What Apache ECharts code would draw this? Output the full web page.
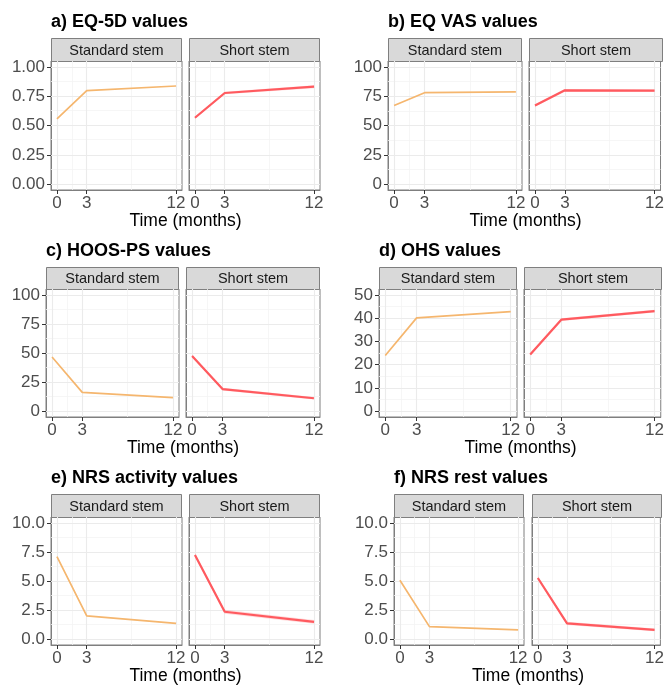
<!DOCTYPE html>
<html lang="en">
<head>
    <meta charset="UTF-8">
    <title>PROM values by stem</title>
    <script src="https://cdn.jsdelivr.net/npm/echarts@6/dist/echarts.min.js"></script>
    <style>
        html, body { margin: 0; padding: 0; background: #fff; }
        #main { width: 667px; height: 685px; }
    </style>
</head>
<body>
<div id="main"></div>
<script>
    // time points (months)
    var months = [0, 3, 12];

    // a) EQ-5D
    var eq5dStd = [0.557, 0.797, 0.837];
    var eq5dShort = [0.566, 0.777, 0.831];
    var eq5dShortLo = [0.556, 0.766, 0.818];
    var eq5dShortHi = [0.576, 0.788, 0.844];
    var eq5dTicks = [0, 0.25, 0.5, 0.75, 1];

    // b) EQ VAS
    var vasStd = [67.1, 78.0, 78.6];
    var vasShort = [67.1, 80.0, 79.7];
    var vasShortLo = [66.0, 78.9, 78.6];
    var vasShortHi = [68.2, 81.1, 80.8];
    var vasTicks = [0, 25, 50, 75, 100];

    // c) HOOS-PS
    var hoosStd = [46.6, 16.2, 11.6];
    var hoosShort = [47.4, 19.0, 11.1];
    var hoosShortLo = [46.3, 17.8, 10.0];
    var hoosShortHi = [48.5, 20.2, 12.2];
    var hoosTicks = [0, 25, 50, 75, 100];

    // d) OHS
    var ohsStd = [23.9, 40.1, 42.8];
    var ohsShort = [24.4, 39.3, 43.0];
    var ohsShortLo = [23.8, 38.7, 42.4];
    var ohsShortHi = [25.0, 39.9, 43.6];
    var ohsTicks = [0, 10, 20, 30, 40, 50];

    // e) NRS activity
    var nrsActStd = [7.10, 2.00, 1.36];
    var nrsActShort = [7.24, 2.36, 1.48];
    var nrsActShortLo = [7.10, 2.18, 1.32];
    var nrsActShortHi = [7.38, 2.54, 1.64];
    var nrsActTicks = [0, 2.5, 5, 7.5, 10];

    // f) NRS rest
    var nrsRestStd = [5.06, 1.08, 0.80];
    var nrsRestShort = [5.26, 1.36, 0.80];
    var nrsRestShortLo = [5.12, 1.22, 0.68];
    var nrsRestShortHi = [5.40, 1.50, 0.92];
    var nrsRestTicks = [0, 2.5, 5, 7.5, 10];

    var facetNames = ['Standard stem', 'Short stem'];
    var xTicks = [0, 3, 12];
    var xMinor = [1.5, 7.5];

    var colStd = '#F5B66E';
    var colShort = '#FF5A5F';
    var font = 'Liberation Sans, Arial, Helvetica, sans-serif';

    // panel layout: x = [stdLeft, stdRight, shortLeft, shortRight], y = [stripTop, plotTop, plotBottom]
    var panels = [
        {title: 'a) EQ-5D values', std: eq5dStd, sh: eq5dShort, lo: eq5dShortLo, hi: eq5dShortHi, ticks: eq5dTicks, dec: 2, x: [51, 182, 189, 320], y: [38, 61, 190]},
        {title: 'b) EQ VAS values', std: vasStd, sh: vasShort, lo: vasShortLo, hi: vasShortHi, ticks: vasTicks, dec: 0, x: [388, 522, 529, 663], y: [38, 61, 190]},
        {title: 'c) HOOS-PS values', std: hoosStd, sh: hoosShort, lo: hoosShortLo, hi: hoosShortHi, ticks: hoosTicks, dec: 0, x: [46, 179, 186, 320], y: [267, 289, 417]},
        {title: 'd) OHS values', std: ohsStd, sh: ohsShort, lo: ohsShortLo, hi: ohsShortHi, ticks: ohsTicks, dec: 0, x: [379, 517, 524, 662], y: [267, 289, 417]},
        {title: 'e) NRS activity values', std: nrsActStd, sh: nrsActShort, lo: nrsActShortLo, hi: nrsActShortHi, ticks: nrsActTicks, dec: 1, x: [51, 182, 189, 320], y: [494, 517, 645]},
        {title: 'f) NRS rest values', std: nrsRestStd, sh: nrsRestShort, lo: nrsRestShortLo, hi: nrsRestShortHi, ticks: nrsRestTicks, dec: 1, x: [394, 524, 532, 662], y: [494, 517, 645]}
    ];

    var grids = [], xAxes = [], yAxes = [], series = [], graphics = [];

    function pts(ys) {
        return months.map(function (m, i) { return [m, ys[i]]; });
    }

    panels.forEach(function (p) {
        var top = p.ticks[p.ticks.length - 1];
        var pad = top * 0.05;
        var yMinor = [];
        for (var k = 0; k < p.ticks.length - 1; k++) yMinor.push((p.ticks[k] + p.ticks[k + 1]) / 2);

        // title
        graphics.push({
            type: 'text', x: p.x[0], y: p.y[0] - 16,
            style: {text: p.title, font: 'bold 18px ' + font, fill: '#000',
                align: 'left', verticalAlign: 'middle', textAlign: 'left', textVerticalAlign: 'middle'}
        });
        // x axis title across both facets
        graphics.push({
            type: 'text', x: (p.x[0] + p.x[3]) / 2, y: p.y[2] + 31,
            style: {text: 'Time (months)', font: '17.5px ' + font, fill: '#000',
                align: 'center', verticalAlign: 'middle', textAlign: 'center', textVerticalAlign: 'middle'}
        });

        for (var f = 0; f < 2; f++) {
            var left = p.x[f * 2], right = p.x[f * 2 + 1];
            var gi = grids.length;
            grids.push({
                left: left, top: p.y[1], width: right - left, height: p.y[2] - p.y[1],
                show: true, borderColor: '#7F7F7F', borderWidth: 1, backgroundColor: '#fff', z: 0
            });
            // strip
            graphics.push({
                type: 'rect', shape: {x: left + 0.5, y: p.y[0] + 0.5, width: right - left - 1, height: p.y[1] - p.y[0]},
                style: {fill: '#D9D9D9', stroke: '#7F7F7F', lineWidth: 1}
            });
            graphics.push({
                type: 'text', x: (left + right) / 2, y: (p.y[0] + p.y[1]) / 2 + 1,
                style: {text: facetNames[f], font: '14.5px ' + font, fill: '#1A1A1A',
                    align: 'center', verticalAlign: 'middle', textAlign: 'center', textVerticalAlign: 'middle'}
            });

            xAxes.push({
                type: 'value', gridIndex: gi, min: -0.6, max: 12.6,
                axisLine: {show: true, onZero: false, lineStyle: {color: '#7F7F7F', width: 1}},
                splitLine: {show: false},
                axisTick: {show: true, customValues: xTicks, length: 4, lineStyle: {color: '#333', width: 1}},
                axisLabel: {show: true, customValues: xTicks, margin: 5, color: '#4D4D4D', fontSize: 17, fontFamily: font}
            });
            yAxes.push({
                type: 'value', gridIndex: gi, min: -pad, max: top + pad,
                axisLine: {show: true, onZero: false, lineStyle: {color: '#7F7F7F', width: 1}},
                splitLine: {show: false},
                axisTick: {show: f === 0, customValues: p.ticks, length: 4, lineStyle: {color: '#333', width: 1}},
                axisLabel: {
                    show: f === 0, customValues: p.ticks, margin: 6, color: '#4D4D4D', fontSize: 17, fontFamily: font,
                    formatter: (function (d) { return function (v) { return Number(v).toFixed(d); }; })(p.dec)
                }
            });

            // grid lines
            var ml = [];
            xMinor.forEach(function (v) { ml.push({xAxis: v, lineStyle: {color: '#F4F4F4', width: 0.8, type: 'solid'}}); });
            yMinor.forEach(function (v) { ml.push({yAxis: v, lineStyle: {color: '#F4F4F4', width: 0.8, type: 'solid'}}); });
            xTicks.forEach(function (v) { ml.push({xAxis: v, lineStyle: {color: '#EBEBEB', width: 1.1, type: 'solid'}}); });
            p.ticks.forEach(function (v) { ml.push({yAxis: v, lineStyle: {color: '#EBEBEB', width: 1.1, type: 'solid'}}); });
            series.push({
                type: 'line', xAxisIndex: gi, yAxisIndex: gi, data: [], z: 1, silent: true,
                markLine: {silent: true, z: 1, symbol: ['none', 'none'], label: {show: false}, animation: false, data: ml}
            });

            if (f === 0) {
                series.push({
                    type: 'line', xAxisIndex: gi, yAxisIndex: gi, data: pts(p.std), z: 3,
                    symbol: 'none', lineStyle: {color: colStd, width: 1.7}
                });
            } else {
                // confidence ribbon
                series.push({
                    type: 'custom', xAxisIndex: gi, yAxisIndex: gi, z: 2, silent: true,
                    data: months.map(function (m, i) { return [m, p.lo[i], p.hi[i]]; }),
                    encode: {x: 0, y: [1, 2]},
                    renderItem: (function (lo, hi) {
                        return function (params, api) {
                            if (params.dataIndex !== 0) return;
                            var poly = [];
                            months.forEach(function (m, i) { poly.push(api.coord([m, hi[i]])); });
                            for (var i = months.length - 1; i >= 0; i--) poly.push(api.coord([months[i], lo[i]]));
                            return {type: 'polygon', shape: {points: poly}, style: {fill: 'rgba(255,90,95,0.22)'}};
                        };
                    })(p.lo, p.hi)
                });
                series.push({
                    type: 'line', xAxisIndex: gi, yAxisIndex: gi, data: pts(p.sh), z: 3,
                    symbol: 'none', lineStyle: {color: colShort, width: 2.2}
                });
            }
        }
    });

    var myChart = echarts.init(document.getElementById('main'));
    myChart.setOption({
        animation: false,
        backgroundColor: '#fff',
        grid: grids,
        xAxis: xAxes,
        yAxis: yAxes,
        series: series,
        graphic: {elements: graphics}
    });
</script>
</body>
</html>
